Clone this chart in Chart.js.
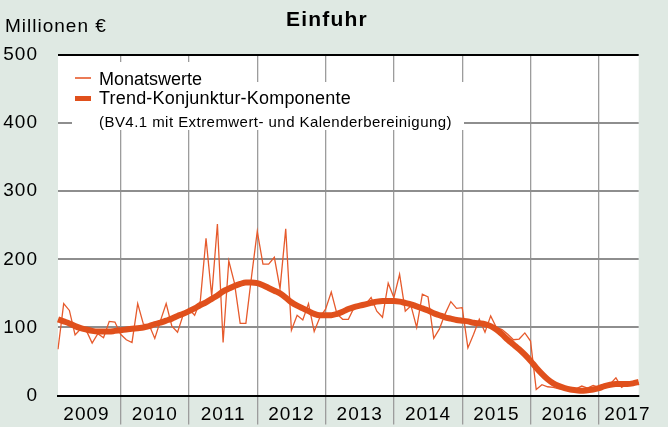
<!DOCTYPE html>
<html>
<head>
<meta charset="utf-8">
<script src="https://cdn.jsdelivr.net/npm/chart.js@4"></script>
<style>
html,body{margin:0;padding:0;background:#dfe9e3;}
canvas{display:block;}
</style>
</head>
<body>
<canvas id="c" width="668" height="427"></canvas>
<script>
// ---- texts ----
const chartTitle = 'Einfuhr';
const unitLabel = 'Millionen €';
const legendLabels = ['Monatswerte', 'Trend-Konjunktur-Komponente', '(BV4.1 mit Extremwert- und Kalenderbereinigung)'];

// ---- categories: monthly, Feb 2009 .. Aug 2017 ----
const firstYear = 2009;
const firstMonth = 2;
const yearLabels = ['2009', '2010', '2011', '2012', '2013', '2014', '2015', '2016', '2017'];
const yTicks = [0, 100, 200, 300, 400, 500];

// ---- series (Millionen €) ----
const monatswerte = [
  68, 135, 125, 89, 98, 95, 77, 91, 85, 109, 108,          // 2009 (Feb-Dec)
  90, 82, 78, 135, 105, 104, 84, 110, 135, 102, 93, 119,   // 2010
  127, 118, 139, 231, 146, 252, 78, 198, 165, 106, 106, 175, // 2011
  241, 193, 193, 203, 157, 245, 96, 118, 111, 135, 94, 115, // 2012
  127, 152, 120, 112, 112, 129, 134, 134, 144, 124, 115, 165, // 2013
  144, 178, 124, 132, 100, 149, 145, 84, 98, 120, 138, 128, // 2014
  129, 70, 90, 112, 93, 117, 100, 97, 90, 82, 83, 92,      // 2015
  80, 9, 16, 13, 12, 10, 9, 8, 10, 14, 11, 15,             // 2016
  12, 14, 17, 26, 12, 17, 17, 19                           // 2017 (Jan-Aug)
];
const trend = [
  112, 109, 106, 102, 99, 97, 95, 94, 94, 94, 95,
  96, 97, 98, 99, 100, 102, 105, 107, 110, 113, 117, 120,
  124, 128, 133, 137, 142, 147, 153, 157, 161, 164, 166, 166,
  165, 162, 158, 154, 150, 144, 137, 132, 128, 124, 120, 118,
  118, 118, 120, 123, 127, 130, 132, 134, 136, 138, 139, 139,
  139, 138, 136, 134, 131, 128, 125, 121, 118, 115, 113, 111,
  110, 109, 107, 106, 105, 102, 97, 90, 82, 75, 68, 60,
  51, 41, 32, 24, 18, 14, 11, 9, 8, 7, 8, 9,
  11, 14, 16, 17, 17, 17, 18, 20
];

const months = [];
for (let i = 0; i < monatswerte.length; i++) {
  const m0 = firstMonth - 1 + i;
  const yy = firstYear + Math.floor(m0 / 12);
  const mm = (m0 % 12) + 1;
  months.push(yy + '-' + String(mm).padStart(2, '0'));
}

// ---- styles ----
const FONT = '"Liberation Sans", Arial, Helvetica, sans-serif';
const bgColor = '#dfe9e3';
const monthlyColor = '#e65a2c';
const trendColor = '#e0501c';
const gridGray = '#8e8e8e';
const vGridGray = '#9c9c9c';

function isJanuary(i) { return months[i] && months[i].endsWith('-01'); }
function yearLabelAt(i) {
  const lab = months[i];
  if (!lab) return '';
  const [yy, mm] = lab.split('-');
  const labelMonth = (yy === yearLabels[yearLabels.length - 1]) ? '06' : '07';
  return (mm === labelMonth && yearLabels.includes(yy)) ? yy : '';
}

const decor = {
  id: 'decor',
  beforeDraw(chart) {
    const { ctx, chartArea: a } = chart;
    ctx.save();
    ctx.fillStyle = bgColor;
    ctx.fillRect(0, 0, chart.width, chart.height);
    ctx.fillStyle = '#ffffff';
    ctx.fillRect(a.left, a.top, a.right - a.left, a.bottom - a.top);
    ctx.restore();
    ctx.letterSpacing = '1px';
  },
  afterDraw(chart) {
    const ctx = chart.ctx;
    ctx.save();
    // legend background
    ctx.fillStyle = '#ffffff';
    ctx.fillRect(72, 62, 160, 68);
    ctx.fillRect(72, 82, 392, 48);
    // legend symbols
    ctx.lineCap = 'butt';
    ctx.strokeStyle = monthlyColor;
    ctx.lineWidth = 1.6;
    ctx.beginPath(); ctx.moveTo(75, 78); ctx.lineTo(91, 78); ctx.stroke();
    ctx.strokeStyle = trendColor;
    ctx.lineWidth = 5;
    ctx.beginPath(); ctx.moveTo(75, 98.5); ctx.lineTo(91, 98.5); ctx.stroke();
    // legend texts
    ctx.fillStyle = '#000';
    ctx.textAlign = 'left';
    ctx.textBaseline = 'middle';
    ctx.letterSpacing = '0px';
    ctx.font = '18px ' + FONT;
    ctx.fillText(legendLabels[0], 99, 80);
    ctx.letterSpacing = '0.2px';
    ctx.fillText(legendLabels[1], 99, 99);
    ctx.letterSpacing = '0.45px';
    ctx.font = '15px ' + FONT;
    ctx.fillText(legendLabels[2], 99, 123);
    // unit label
    ctx.letterSpacing = '1px';
    ctx.font = '19px ' + FONT;
    ctx.fillText(unitLabel, 5, 27);
    // title
    ctx.letterSpacing = '1.2px';
    ctx.textAlign = 'center';
    ctx.font = 'bold 21px ' + FONT;
    ctx.fillText(chartTitle, 327, 20);
    ctx.restore();
  }
};

new Chart(document.getElementById('c'), {
  type: 'line',
  data: {
    labels: months,
    datasets: [
      {
        label: legendLabels[0],
        data: monatswerte,
        borderColor: monthlyColor,
        borderWidth: 1.3,
        pointRadius: 0,
        tension: 0,
        order: 2
      },
      {
        label: legendLabels[1],
        data: trend,
        borderColor: trendColor,
        borderWidth: 6,
        pointRadius: 0,
        cubicInterpolationMode: 'monotone',
        order: 1
      }
    ]
  },
  options: {
    responsive: false,
    animation: false,
    devicePixelRatio: 1,
    layout: { padding: { top: 55, right: 29.3, left: 0, bottom: 0 } },
    plugins: {
      legend: { display: false },
      title: { display: false },
      tooltip: { enabled: false }
    },
    scales: {
      x: {
        type: 'category',
        offset: false,
        afterFit(s) { s.height = 28.3; },
        grid: {
          offset: false,
          color: (c) => isJanuary(c.index) ? vGridGray : 'rgba(0,0,0,0)',
          tickColor: (c) => isJanuary(c.index) ? vGridGray : 'rgba(0,0,0,0)',
          lineWidth: 1.3,
          tickLength: 29,
          drawTicks: true
        },
        border: { display: true, color: '#000', width: 2 },
        ticks: {
          autoSkip: false,
          maxRotation: 0,
          minRotation: 0,
          padding: -21,
          color: '#000',
          font: { family: FONT, size: 19 },
          callback: (v, i) => yearLabelAt(i)
        }
      },
      y: {
        min: 0,
        max: 500,
        afterFit(s) { s.width = 58; },
        afterBuildTicks(s) { s.ticks = yTicks.map(v => ({ value: v })); },
        grid: {
          color: (c) => (c.tick && (c.tick.value === 500 || c.tick.value === 0)) ? '#000' : gridGray,
          lineWidth: 2,
          drawTicks: false
        },
        border: { display: false },
        ticks: {
          padding: 20,
          color: '#000',
          font: { family: FONT, size: 19 }
        }
      }
    }
  },
  plugins: [decor]
});
</script>
</body>
</html>
